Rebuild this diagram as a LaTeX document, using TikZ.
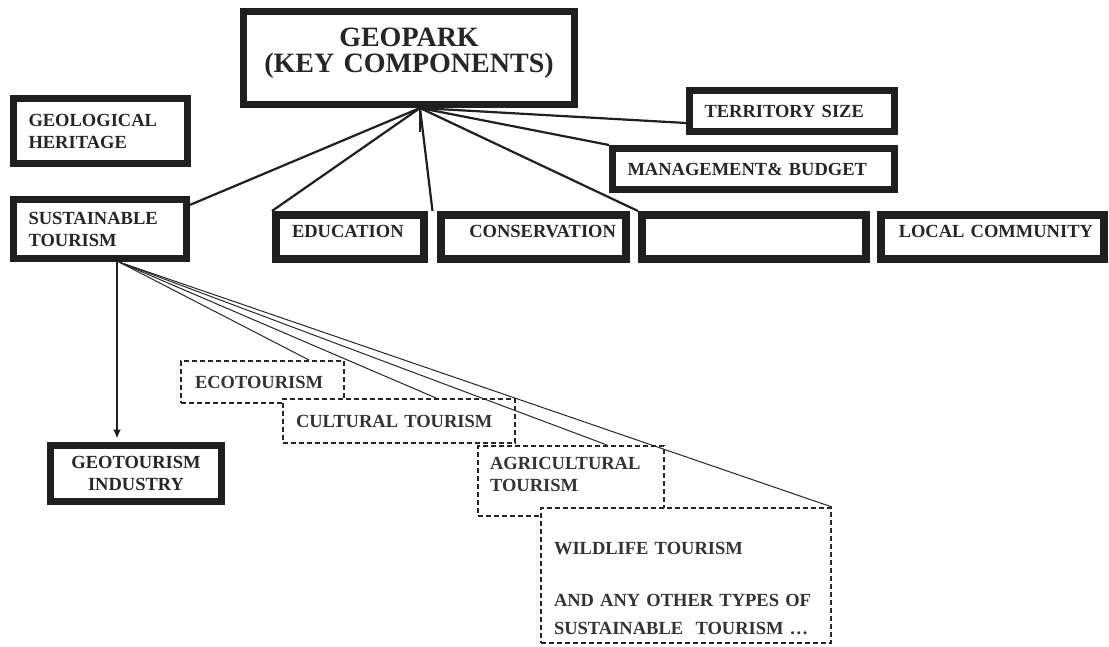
\documentclass[tikz,border=0pt]{standalone}
\usepackage{fontspec}
\setmainfont{Liberation Serif}
\usetikzlibrary{calc,arrows.meta}

\tikzset{
kbox/.style={draw=black!88,line width=7pt,fill=white,text=black!85,
  font=\bfseries\fontsize{18.5}{22}\selectfont,align=left,
  inner xsep=15pt,inner ysep=0pt},
rbox/.style={kbox,line width=8pt,minimum height=44pt,
  text height=12pt,text depth=12pt},
dbox/.style={kbox,line width=2pt,dash pattern=on 5pt off 3pt,
  draw=black!85,text=black!80,inner xsep=13pt},
link/.style={line width=2.2pt,black!88},
tlink/.style={line width=1pt,black!85}
}

\begin{document}
\begin{tikzpicture}[x=1pt,y=-1pt]

\useasboundingbox (0,0) rectangle (1109,646);

% main box
\node[kbox,align=center,inner xsep=10pt,text width=311pt,minimum height=93pt,
  font=\bfseries\fontsize{28}{25.5}\selectfont,text height=19pt,text depth=42pt]
  (geo) at (409,58)
{GEOPARK\\(KEY COMPONENTS)};

\node[kbox,text width=144pt,minimum height=65pt] (herit) at (100.5,131)
{GEOLOGICAL\\HERITAGE};

\node[kbox,text width=143pt,minimum height=59pt] (sust) at (100,229)
{SUSTAINABLE\\TOURISM};

\node[kbox,text width=175pt,minimum height=41pt] (terr) at (792,111)
{TERRITORY SIZE};

\node[kbox,text width=252pt,minimum height=41pt] (mgmt) at (753.5,169)
{MANAGEMENT\& BUDGET};

% row of components
\node[rbox,inner xsep=16pt,text width=116pt] (educ) at (350,237)
{EDUCATION};

\node[rbox,align=right,inner xsep=10pt,text width=165pt] (cons) at (533.5,237)
{CONSERVATION};

\node[rbox,text width=194pt] (blank) at (754,237)
{};

\node[rbox,align=right,inner xsep=11pt,text width=201pt] (local) at (992.5,237)
{LOCAL COMMUNITY};

\node[kbox,align=center,inner xsep=10pt,text width=151pt,minimum height=56pt]
  (geot) at (136,473.5)
{GEOTOURISM\\INDUSTRY};

% types of tourism
\node[dbox,inner xsep=14pt,text width=135pt,minimum height=42pt] (eco) at (262.5,382)
{ECOTOURISM};

\node[dbox,text width=206pt,minimum height=44pt] (cult) at (399,421)
{CULTURAL TOURISM};

\node[dbox,inner xsep=12pt,text width=162pt,minimum height=70pt,
  text height=12pt,text depth=36pt] (agri) at (571,481)
{AGRICULTURAL\\TOURISM};

\node[dbox,text width=264pt,minimum height=135pt,
  text height=37pt,text depth=80pt] (wild) at (686,575.5)
{WILDLIFE TOURISM\\[30pt]AND ANY OTHER TYPES OF\\[6pt]SUSTAINABLE\ \ TOURISM \dots};

% links from the geopark
\coordinate (ghub) at ([xshift=11pt]geo.south);
\coordinate (gstub) at (420,132);

\draw[link] (ghub) -- (sust.15);
\draw[link] (ghub) -- (educ.north west);
\draw[link] (ghub) -- ($(educ.north east)!0.5!(cons.north west)$);
\draw[link] (ghub) -- (blank.north west);
\draw[link] (ghub) -- (mgmt.north west);
\draw[link] (ghub) -- ([yshift=-12pt]terr.west);
\draw[link] (ghub) -- (gstub);

% links from sustainable tourism
\coordinate (shub) at ([xshift=19pt]sust.south);

\draw[link,line width=2pt,-{Latex[length=9pt,width=8pt]}] ([xshift=17pt]sust.south)
  -- ([xshift=17pt,yshift=3.5pt]sust.south |- geot.north);

\draw[tlink] (shub) -- ([xshift=46.5pt]eco.north);
\draw[tlink] (shub) -- ([xshift=37pt]cult.north);
\draw[tlink] (shub) -- ([xshift=36pt]agri.north);
\draw[tlink] (shub) -- (wild.north east);

\end{tikzpicture}
\end{document}
